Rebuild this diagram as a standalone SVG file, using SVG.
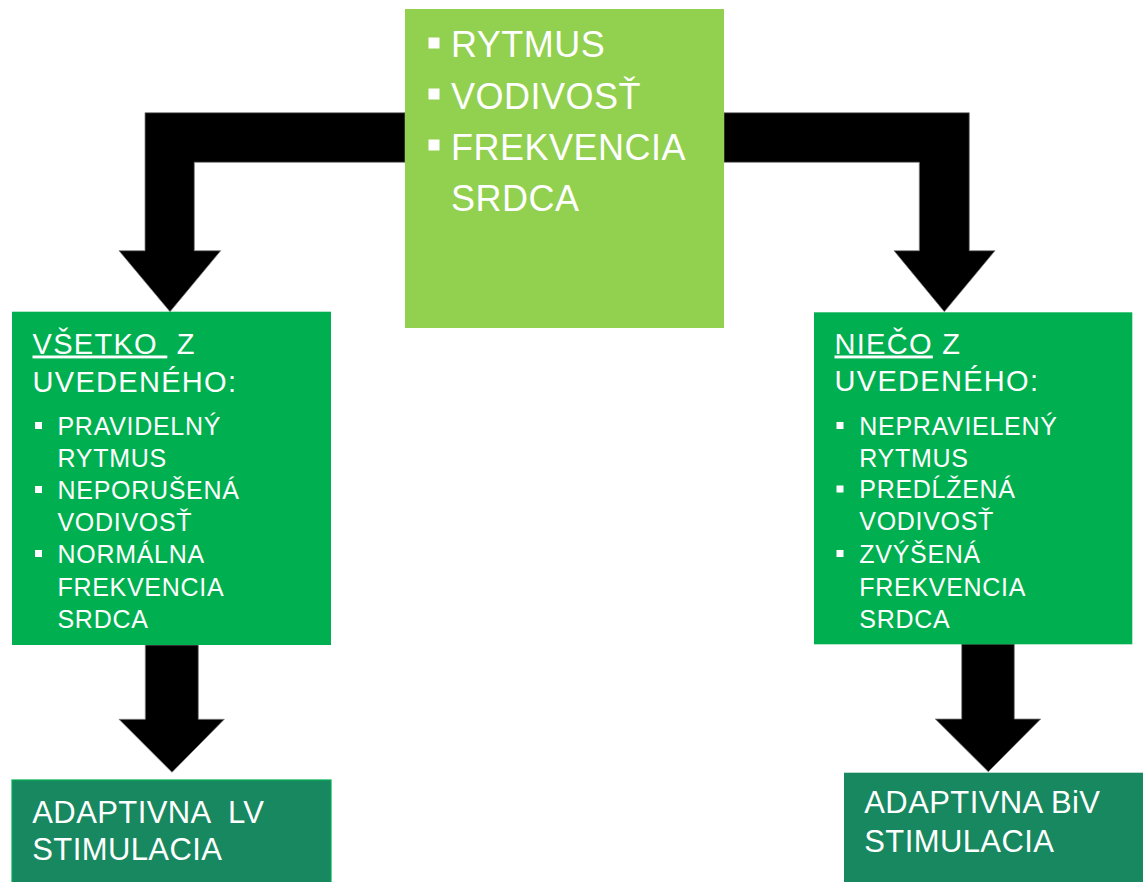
<svg xmlns="http://www.w3.org/2000/svg" width="1143" height="882" viewBox="0 0 1143 882">
<style>
.arrow{fill:#000;stroke:#7f7f7f;stroke-width:0.8}
.t{fill:#fff;font-family:"Liberation Sans",Arial,sans-serif}
.big{font-size:36px;letter-spacing:0.5px}
.mid{font-size:29px;letter-spacing:1.3px}
.sm{font-size:25px;letter-spacing:0.7px}
.low{font-size:31px;letter-spacing:0.4px}
.bl{fill:#fff}
</style>
<rect width="1143" height="882" fill="#fff"/>
<g id="connectors">
<path class="arrow" d="M405,112.7 L145,112.7 L145,250.7 L119,250.7 L170,311.7 L220.7,250.7 L194.3,250.7 L194.3,162.3 L405,162.3 Z"/>
<path class="arrow" d="M724,112.7 L969.3,112.7 L969.3,250.7 L995,250.7 L944.3,311.7 L894,250.7 L919.3,250.7 L919.3,162.3 L724,162.3 Z"/>
<path class="arrow" d="M145.3,645 L198.3,645 L198.3,719.3 L224.3,719.3 L172,772.3 L119,719.3 L145.3,719.3 Z"/>
<path class="arrow" d="M961.7,644 L1014.3,644 L1014.3,719 L1040.7,719 L988.3,771.7 L935.3,719 L961.7,719 Z"/>
</g>
<g id="top">
<rect x="405" y="9" width="319" height="319" fill="#92D050"/>
<rect class="bl" x="428.5" y="37.5" width="11" height="11"/>
<rect class="bl" x="428.5" y="88.5" width="11" height="11"/>
<rect class="bl" x="428.5" y="139.5" width="11" height="11"/>
<text class="t big" x="451" y="57">RYTMUS</text>
<text class="t big" x="451" y="109">VODIVOSŤ</text>
<text class="t big" x="451" y="160">FREKVENCIA</text>
<text class="t big" x="451" y="211">SRDCA</text>
</g>
<g id="left-mid">
<rect x="12" y="311.7" width="319" height="333.3" fill="#00B050"/>
<text class="t mid" x="32.5" y="353.5" xml:space="preserve"><tspan text-decoration="underline">VŠETKO </tspan> Z</text>
<text class="t mid" x="32.5" y="391.5">UVEDENÉHO:</text>
<rect class="bl" x="35" y="422" width="7" height="7"/>
<rect class="bl" x="35" y="486" width="7" height="7"/>
<rect class="bl" x="35" y="550" width="7" height="7"/>
<text class="t sm" x="57.5" y="435">PRAVIDELNÝ</text>
<text class="t sm" x="57.5" y="466.7">RYTMUS</text>
<text class="t sm" x="57.5" y="499.3">NEPORUŠENÁ</text>
<text class="t sm" x="57.5" y="530.7">VODIVOSŤ</text>
<text class="t sm" x="57.5" y="563.3">NORMÁLNA</text>
<text class="t sm" x="57.5" y="596">FREKVENCIA</text>
<text class="t sm" x="57.5" y="627.7">SRDCA</text>
</g>
<g id="right-mid">
<rect x="814" y="312.3" width="318.3" height="332" fill="#00B050"/>
<text class="t mid" x="834.5" y="353.5"><tspan text-decoration="underline">NIEČO</tspan> Z</text>
<text class="t mid" x="834.5" y="390.7">UVEDENÉHO:</text>
<rect class="bl" x="836.5" y="422" width="7" height="7"/>
<rect class="bl" x="836.5" y="485.5" width="7" height="7"/>
<rect class="bl" x="836.5" y="550" width="7" height="7"/>
<text class="t sm" x="859.3" y="435">NEPRAVIELENÝ</text>
<text class="t sm" x="859.3" y="466.7">RYTMUS</text>
<text class="t sm" x="859.3" y="498.3">PREDĹŽENÁ</text>
<text class="t sm" x="859.3" y="530">VODIVOSŤ</text>
<text class="t sm" x="859.3" y="562.7">ZVÝŠENÁ</text>
<text class="t sm" x="859.3" y="596">FREKVENCIA</text>
<text class="t sm" x="859.3" y="627.7">SRDCA</text>
</g>
<g id="left-low">
<rect x="12" y="780" width="319" height="110" fill="#17885F" stroke="#00B050" stroke-width="1.2"/>
<text class="t low" x="32.3" y="822.7" xml:space="preserve">ADAPTIVNA  LV</text>
<text class="t low" x="32.3" y="860">STIMULACIA</text>
</g>
<g id="right-low">
<rect x="844" y="772.7" width="300" height="120" fill="#17885F"/>
<text class="t low" x="864.3" y="813.3">ADAPTIVNA BiV</text>
<text class="t low" x="864.3" y="851.7">STIMULACIA</text>
</g>
</svg>
